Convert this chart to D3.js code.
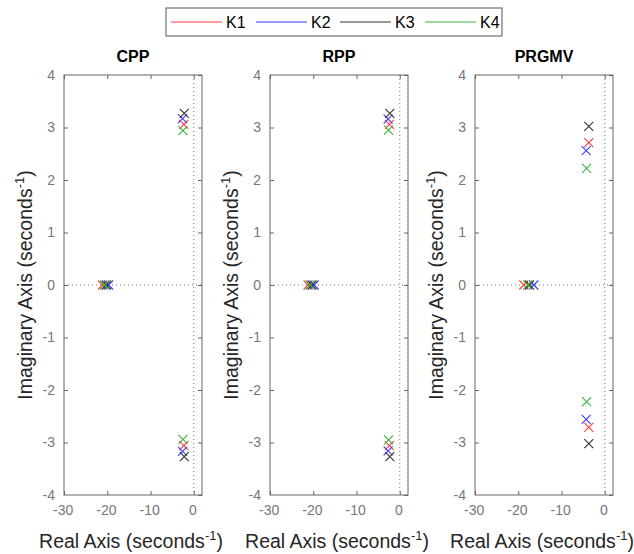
<!DOCTYPE html>
<html>
<head>
<meta charset="utf-8">
<script src="https://cdn.jsdelivr.net/npm/d3@7"></script>
<style>
  body { margin: 0; background: #fff; }
  text { font-family: "Liberation Sans", Arial, sans-serif; }
</style>
</head>
<body>
<div id="chart"></div>
<script>
// series and panels
var series = ["K1", "K2", "K3", "K4"];
var colors = ["#ff3b3b", "#3b3bff", "#333333", "#3cb43c"];
var panels = ["CPP", "RPP", "PRGMV"];

// real poles per series
var cppReal = [-21.1, -19.7, -20.2, -20.6];
var rppReal = [-21.2, -19.8, -20.3, -20.7];
var prgReal = [-18.7, -16.4, -17.4, -17.8];

// complex pole pairs (real part, imag part)
var cppRe = [-2.3, -2.6, -2.2, -2.5];
var cppIm = [3.06, 3.17, 3.27, 2.94];
var rppRe = [-2.4, -2.7, -2.3, -2.6];
var rppIm = [3.06, 3.16, 3.27, 2.95];
var prgRe = [-3.7, -4.3, -3.7, -4.2];
var prgIm = [2.71, 2.56, 3.02, 2.22];

var xTicks = [-30, -20, -10, 0];
var yTicks = [-4, -3, -2, -1, 0, 1, 2, 3, 4];

var panelData = [
  { real: cppReal, re: cppRe, im: cppIm },
  { real: rppReal, re: rppRe, im: rppIm },
  { real: prgReal, re: prgRe, im: prgIm }
];

function draw() {
  var W = 634, H = 554;
  var svg = d3.select("#chart").append("svg")
    .attr("width", W).attr("height", H);

  var plotW = 138, pTop = 75, pBottom = 495;
  var lefts = [64, 270, 475];
  var fmt = function (d) { return String(d); };

  panelData.forEach(function (pd, pi) {
    var x = d3.scaleLinear().domain([-30, 1.9]).range([lefts[pi], lefts[pi] + plotW]);
    var y = d3.scaleLinear().domain([-4, 4]).range([pBottom, pTop]);
    var g = svg.append("g");

    // dotted zero lines
    g.append("line")
      .attr("x1", x(0)).attr("x2", x(0)).attr("y1", pTop).attr("y2", pBottom)
      .attr("stroke", "#777").attr("stroke-dasharray", "1,3");
    g.append("line")
      .attr("x1", x(-30)).attr("x2", x(1.9)).attr("y1", y(0)).attr("y2", y(0))
      .attr("stroke", "#777").attr("stroke-dasharray", "1,3");

    // axes with inward ticks
    var tl = 4;
    g.append("g").attr("class", "xb").attr("transform", "translate(0," + pBottom + ")")
      .call(d3.axisBottom(x).tickValues(xTicks).tickFormat(fmt).tickSizeInner(-tl).tickSizeOuter(0).tickPadding(10));
    g.append("g").attr("transform", "translate(0," + pTop + ")")
      .call(d3.axisTop(x).tickValues(xTicks).tickSizeInner(-tl).tickSizeOuter(0).tickFormat(""));
    g.append("g").attr("class", "yl").attr("transform", "translate(" + lefts[pi] + ",0)")
      .call(d3.axisLeft(y).tickValues(yTicks).tickFormat(fmt).tickSizeInner(-tl).tickSizeOuter(0).tickPadding(9));
    g.append("g").attr("transform", "translate(" + (lefts[pi] + plotW) + ",0)")
      .call(d3.axisRight(y).tickValues(yTicks).tickSizeInner(-tl).tickSizeOuter(0).tickFormat(""));

    g.selectAll(".domain").remove();
    g.selectAll(".tick line").attr("stroke", "#666");
    g.selectAll(".tick text").attr("fill", "#777").style("font-size", "14px")
      .style("font-family", "'Liberation Sans', Arial, sans-serif");
    g.select(".xb").selectAll(".tick text").attr("dx", "-0.1em");
    g.select(".yl").selectAll(".tick").filter(function (d) { return d === -4 || d === 4; }).select("line").remove();

    g.append("rect")
      .attr("x", lefts[pi]).attr("y", pTop)
      .attr("width", plotW).attr("height", pBottom - pTop)
      .attr("fill", "none").attr("stroke", "#666");

    // poles
    var poles = [];
    series.forEach(function (s, i) {
      poles.push({ s: i, re: pd.real[i], im: 0 });
      poles.push({ s: i, re: pd.re[i], im: pd.im[i] });
      poles.push({ s: i, re: pd.re[i], im: -pd.im[i] });
    });
    var r = 4.5;
    g.selectAll(".pole").data(poles).enter().append("path")
      .attr("class", "pole")
      .attr("d", function (d) {
        var cx = x(d.re), cy = y(d.im);
        return "M" + (cx - r) + "," + (cy - r) + "L" + (cx + r) + "," + (cy + r) +
               "M" + (cx - r) + "," + (cy + r) + "L" + (cx + r) + "," + (cy - r);
      })
      .attr("stroke", function (d) { return colors[d.s]; })
      .attr("stroke-width", 1.1)
      .attr("fill", "none");

    // title
    svg.append("text")
      .attr("x", lefts[pi] + plotW / 2).attr("y", 62)
      .attr("text-anchor", "middle")
      .style("font-size", "16px").style("font-weight", "bold")
      .attr("fill", "#000")
      .text(panels[pi]);

    // x label
    var xl = svg.append("text")
      .attr("x", lefts[pi] + plotW / 2 - 2).attr("y", 548)
      .attr("text-anchor", "middle")
      .style("font-size", "19.5px").attr("fill", "#262626");
    xl.append("tspan").text("Real Axis (seconds");
    xl.append("tspan").attr("dy", -8).style("font-size", "13px").text("-1");
    xl.append("tspan").attr("dy", 8).text(")");

    // y label
    var yl = svg.append("text")
      .attr("transform", "translate(" + (lefts[pi] - 32) + "," + ((pTop + pBottom) / 2) + ") rotate(-90)")
      .attr("text-anchor", "middle")
      .style("font-size", "19.5px").attr("fill", "#262626");
    yl.append("tspan").text("Imaginary Axis (seconds");
    yl.append("tspan").attr("dy", -8).style("font-size", "13px").text("-1");
    yl.append("tspan").attr("dy", 8).text(")");
  });

  // legend
  var leg = svg.append("g");
  leg.append("rect")
    .attr("x", 166).attr("y", 8).attr("width", 336).attr("height", 28)
    .attr("fill", "#fff").attr("stroke", "#555");
  var legX = d3.scaleOrdinal().domain(series).range([171, 256, 340, 425]);
  series.forEach(function (s, i) {
    var lx = legX(s);
    leg.append("line")
      .attr("x1", lx).attr("x2", lx + 51).attr("y1", 22).attr("y2", 22)
      .attr("stroke", colors[i]).attr("stroke-width", 1);
    leg.append("text")
      .attr("x", lx + 55).attr("y", 28)
      .style("font-size", "16px").attr("fill", "#000")
      .text(s);
  });
}

draw();
</script>
</body>
</html>
